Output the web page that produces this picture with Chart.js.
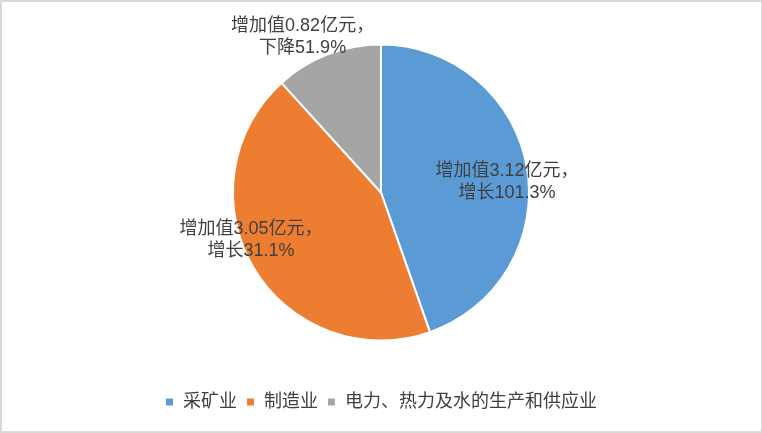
<!DOCTYPE html>
<html>
<head>
<meta charset="utf-8">
<script src="https://cdn.jsdelivr.net/npm/chart.js@4/dist/chart.umd.min.js"></script>
<style>
  html, body { margin: 0; padding: 0; background: #fff; }
  #wrap { position: relative; width: 762px; height: 433px; }
  #frame {
    position: absolute; left: 0; top: 0; width: 762px; height: 433px;
    box-sizing: border-box; pointer-events: none;
    border-top: 2px solid #d9d9d9; border-left: 2px solid #d9d9d9;
    border-bottom: 2px solid #d9d9d9; border-right: 1px solid #d9d9d9;
  }
</style>
</head>
<body>
<div id="wrap">
  <canvas id="chart" width="762" height="433"></canvas>
  <div id="frame"></div>
</div>
<script>
const categories = ['采矿业', '制造业', '电力、热力及水的生产和供应业'];
const addedValues = [3.12, 3.05, 0.82];       // 增加值（亿元）
const growthRates = ['增长101.3%', '增长31.1%', '下降51.9%'];
const colors = ['#5b9bd5', '#ed7d31', '#a5a5a5'];

const FONT = '"Liberation Sans", "Noto Sans CJK SC", sans-serif';

// where each data label sits: fraction of radius along the slice middle, plus a nudge
const labelPlacement = [
    { rf: 0.85, dx: 2, dy: 11 },
    { rf: 0.92, dx: -13, dy: -22 },
    { rf: 1.17, dx: -16, dy: 6 }
];

const pieLabels = {
    id: 'pieLabels',
    afterDatasetsDraw(chart) {
        const ctx = chart.ctx;
        const meta = chart.getDatasetMeta(0);
        ctx.save();
        ctx.font = '18px ' + FONT;
        ctx.fillStyle = '#404040';
        ctx.textAlign = 'center';
        ctx.textBaseline = 'middle';
        meta.data.forEach((arc, i) => {
            const mid = (arc.startAngle + arc.endAngle) / 2;
            const p = labelPlacement[i];
            const x = arc.x + Math.cos(mid) * arc.outerRadius * p.rf + p.dx;
            const y = arc.y + Math.sin(mid) * arc.outerRadius * p.rf + p.dy;
            ctx.fillText('增加值' + addedValues[i].toFixed(2) + '亿元，', x, y - 11);
            ctx.fillText(growthRates[i], x, y + 11);
        });
        ctx.restore();
    }
};

new Chart(document.getElementById('chart'), {
    type: 'pie',
    data: {
        labels: categories,
        datasets: [{
            data: addedValues,
            backgroundColor: colors,
            borderColor: '#ffffff',
            borderWidth: 2
        }]
    },
    options: {
        responsive: false,
        animation: false,
        radius: 148,
        layout: {
            padding: { top: 1, bottom: 12, left: 0, right: 0 }
        },
        plugins: {
            legend: {
                position: 'bottom',
                labels: {
                    boxWidth: 9,
                    boxHeight: 9,
                    padding: 9,
                    color: '#404040',
                    font: { size: 18, family: FONT }
                }
            },
            tooltip: { enabled: false }
        }
    },
    plugins: [pieLabels]
});
</script>
</body>
</html>
